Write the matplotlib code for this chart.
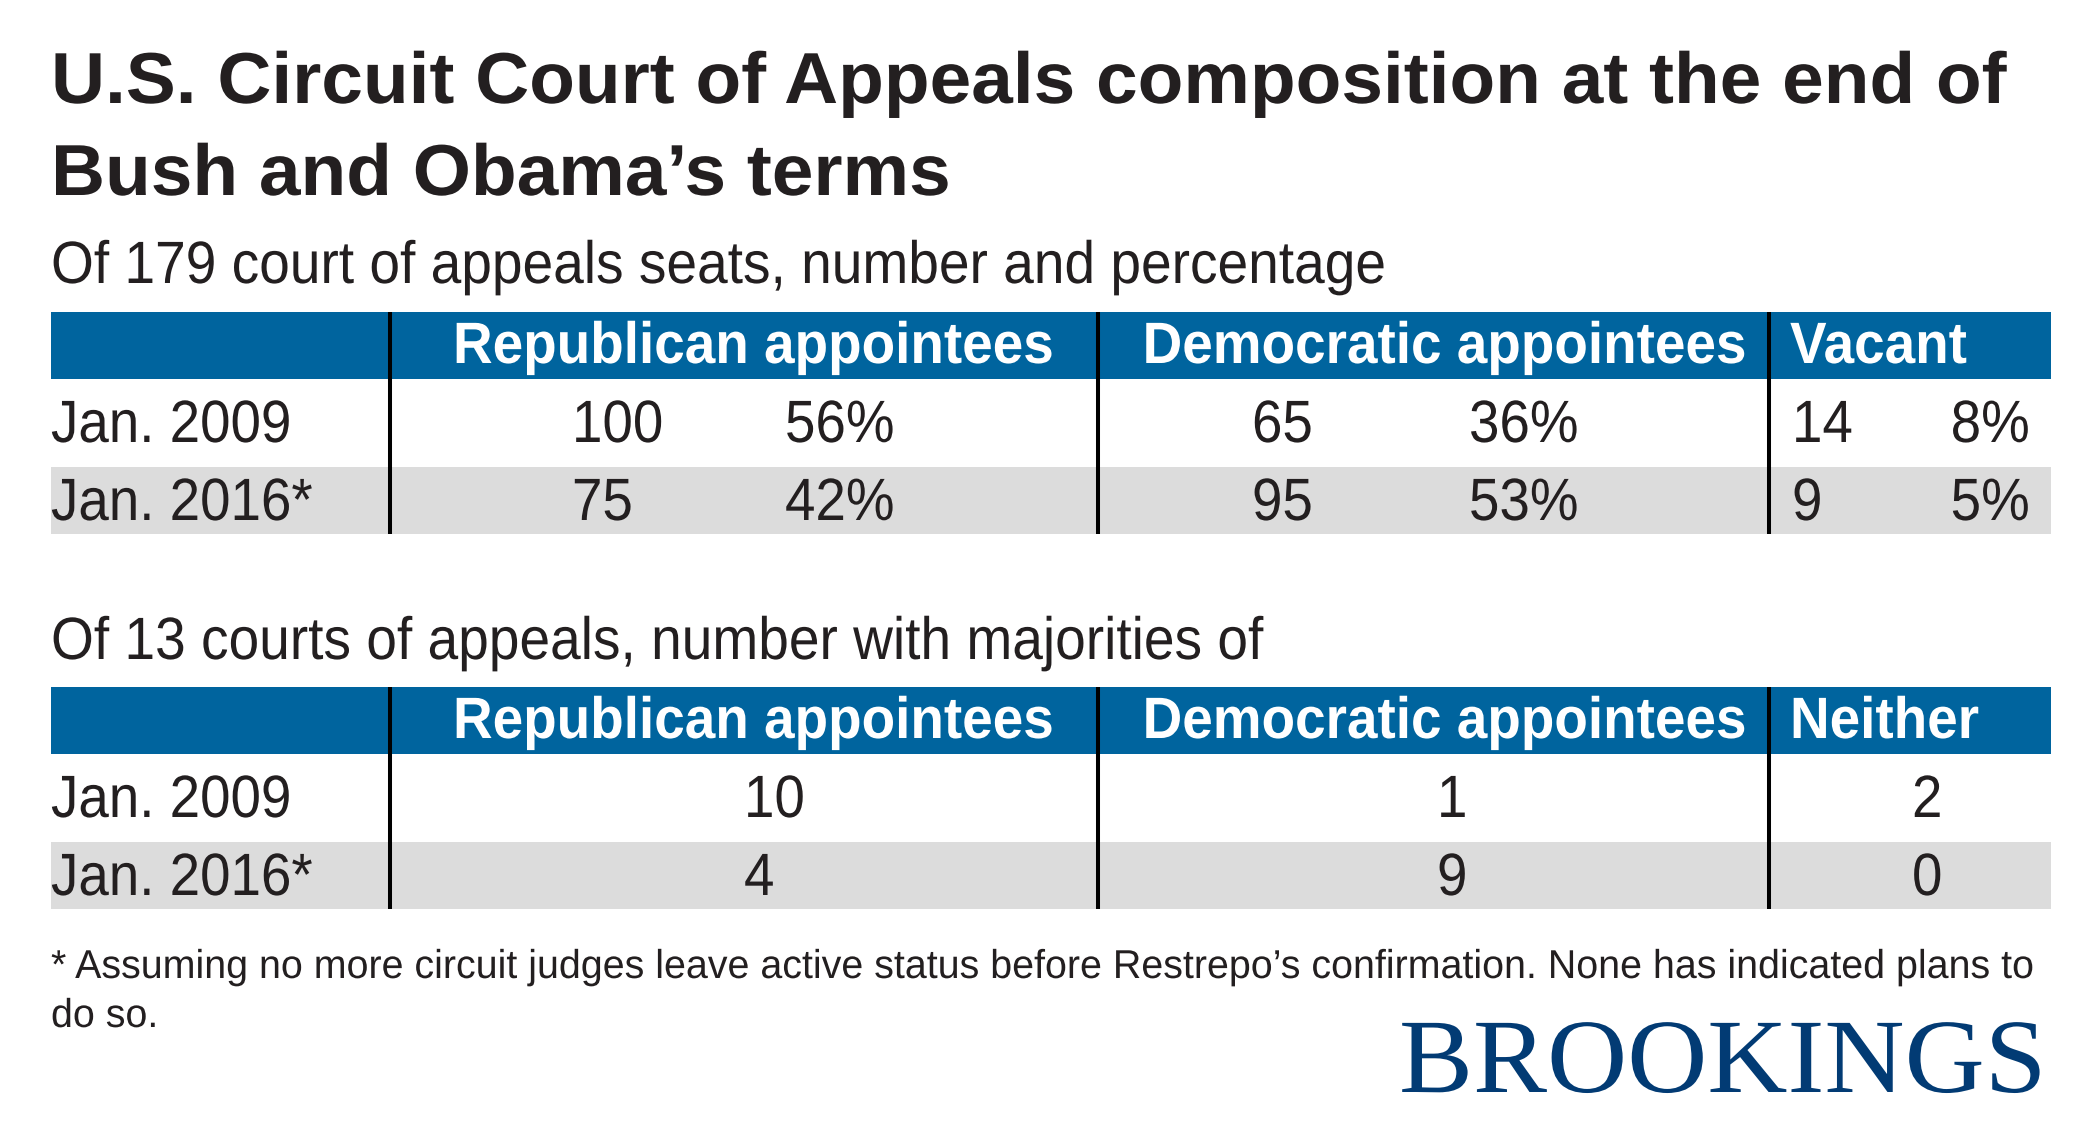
import matplotlib
matplotlib.use("Agg")
import matplotlib.pyplot as plt
from matplotlib.patheffects import AbstractPathEffect
from matplotlib.transforms import Affine2D, Bbox
from matplotlib.patches import Rectangle
from matplotlib.text import Text

# ---------------- data ----------------
title_lines = ["U.S. Circuit Court of Appeals composition at the end of",
               "Bush and Obama\u2019s terms"]
subtitle1 = "Of 179 court of appeals seats, number and percentage"
subtitle2 = "Of 13 courts of appeals, number with majorities of"
row_labels = ["Jan. 2009", "Jan. 2016*"]
headers1 = ["Republican appointees", "Democratic appointees", "Vacant"]
headers2 = ["Republican appointees", "Democratic appointees", "Neither"]
seats_rep = [100, 75]
seats_rep_pct = [56, 42]
seats_dem = [65, 95]
seats_dem_pct = [36, 53]
seats_vac = [14, 9]
seats_vac_pct = [8, 5]
courts_rep = [10, 4]
courts_dem = [1, 9]
courts_neither = [2, 0]
footnote = ["* Assuming no more circuit judges leave active status before Restrepo\u2019s confirmation. None has indicated plans to",
            "do so."]
brand = "BROOKINGS"

# ---------------- style ----------------
SANS = "Liberation Sans"
SERIF = "Liberation Serif"
TXT = "#231F20"
BLUE = "#00649E"
GRAY = "#DCDCDC"
NAVY = "#023B74"


class Condense(AbstractPathEffect):
    """Horizontally condense the glyph outlines of a text (stays a Text artist)."""
    def __init__(self, sx, ha="left"):
        super().__init__()
        self.sx = sx
        self.ha = ha

    def draw_path(self, renderer, gc, tpath, affine, rgbFace=None):
        ext = tpath.get_extents()
        if self.ha == "left":
            x0 = 0.0
        elif self.ha == "right":
            x0 = ext.x1
        else:
            x0 = 0.5 * (ext.x0 + ext.x1)
        t = Affine2D().translate(-x0, 0).scale(self.sx, 1.0).translate(x0, 0)
        renderer.draw_path(gc, tpath, t + affine, rgbFace)


class CText(Text):
    """Text whose reported extent follows the horizontal condensing."""
    sx = 1.0

    def get_window_extent(self, renderer=None, dpi=None):
        bb = super().get_window_extent(renderer, dpi)
        if self.sx == 1.0:
            return bb
        ha = self.get_horizontalalignment()
        if ha == "left":
            x0 = bb.x0
        elif ha == "right":
            x0 = bb.x1
        else:
            x0 = 0.5 * (bb.x0 + bb.x1)
        return Bbox([[x0 + (bb.x0 - x0) * self.sx, bb.y0],
                     [x0 + (bb.x1 - x0) * self.sx, bb.y1]])


W, H = 2100, 1142
fig = plt.figure(figsize=(W / 100, H / 100), dpi=100)
ax = fig.add_axes([0, 0, 1, 1])
ax.set_xlim(0, W)
ax.set_ylim(H, 0)
ax.axis("off")
renderer = fig.canvas.get_renderer()


def measure(s, size, weight="normal", family=SANS):
    tmp = ax.text(0, 0, s, fontsize=size, fontweight=weight, family=family)
    w = tmp.get_window_extent(renderer).width
    tmp.remove()
    return w


def put(x, y, s, size, ha="left", weight="normal", color=TXT, family=SANS,
        target_w=None, sx=None):
    if target_w is not None:
        sx = target_w / measure(s, size, weight, family)
    t = CText(x, y, s, fontsize=size, ha=ha, va="baseline", fontweight=weight,
              color=color, family=family)
    if sx is not None:
        t.sx = sx
        t.set_path_effects([Condense(sx, ha)])
    ax.add_artist(t)
    return sx


# ---------------- title / subtitle ----------------
LEFT, RIGHT = 51, 2051
sx_title = put(LEFT, 103, title_lines[0], 52, weight="bold", target_w=1958)
put(LEFT, 195, title_lines[1], 52, weight="bold", sx=sx_title)
sx_sub = put(LEFT, 283, subtitle1, 43, target_w=1336)
put(LEFT, 659, subtitle2, 43, sx=sx_sub)

# ---------------- tables ----------------
VLINES = [390, 1098, 1769]
HDR_CX = [754, 1445]
HDR_LAST_X = 1790
BODY = 43
HDR = 42

sx_body = 241 / measure(row_labels[0], BODY)
sx_hdr = 602 / measure(headers1[0], HDR, weight="bold")


def table(top, headers):
    hdr_bot = top + 67
    r1_bot = hdr_bot + 88
    r2_bot = r1_bot + 67
    ax.add_patch(Rectangle((LEFT, top), RIGHT - LEFT, hdr_bot - top,
                           facecolor=BLUE, edgecolor="none", zorder=1))
    ax.add_patch(Rectangle((LEFT, r1_bot), RIGHT - LEFT, r2_bot - r1_bot,
                           facecolor=GRAY, edgecolor="none", zorder=1))
    for vx in VLINES:
        ax.plot([vx, vx], [top, r2_bot], color="black", lw=2.9,
                solid_capstyle="butt", zorder=3)
    hb = top + 51
    put(HDR_CX[0], hb, headers[0], HDR, ha="center", weight="bold",
        color="white", sx=sx_hdr)
    put(HDR_CX[1], hb, headers[1], HDR, ha="center", weight="bold",
        color="white", sx=sx_hdr)
    put(HDR_LAST_X, hb, headers[2], HDR, weight="bold", color="white", sx=sx_hdr)
    baselines = [hdr_bot + 63, r1_bot + 53]
    for lab, yb in zip(row_labels, baselines):
        put(LEFT, yb, lab, BODY, sx=sx_body)
    return baselines


b1 = table(312, headers1)
for i, yb in enumerate(b1):
    put(572, yb, f"{seats_rep[i]}", BODY, sx=sx_body)
    put(785, yb, f"{seats_rep_pct[i]}%", BODY, sx=sx_body)
    put(1252, yb, f"{seats_dem[i]}", BODY, sx=sx_body)
    put(1469, yb, f"{seats_dem_pct[i]}%", BODY, sx=sx_body)
    put(1792, yb, f"{seats_vac[i]}", BODY, sx=sx_body)
    put(2030, yb, f"{seats_vac_pct[i]}%", BODY, ha="right", sx=sx_body)

b2 = table(687, headers2)
for i, yb in enumerate(b2):
    put(744, yb, f"{courts_rep[i]}", BODY, sx=sx_body)
    put(1437, yb, f"{courts_dem[i]}", BODY, sx=sx_body)
    put(1912, yb, f"{courts_neither[i]}", BODY, sx=sx_body)

# ---------------- footnote / brand ----------------
sx_fn = put(LEFT, 978, footnote[0], 29, target_w=1984)
put(LEFT, 1027, footnote[1], 29, sx=sx_fn)
put(1399, 1092, brand, 76, family=SERIF, color=NAVY, target_w=647)

fig.savefig("out.png", dpi=100, facecolor="white")
